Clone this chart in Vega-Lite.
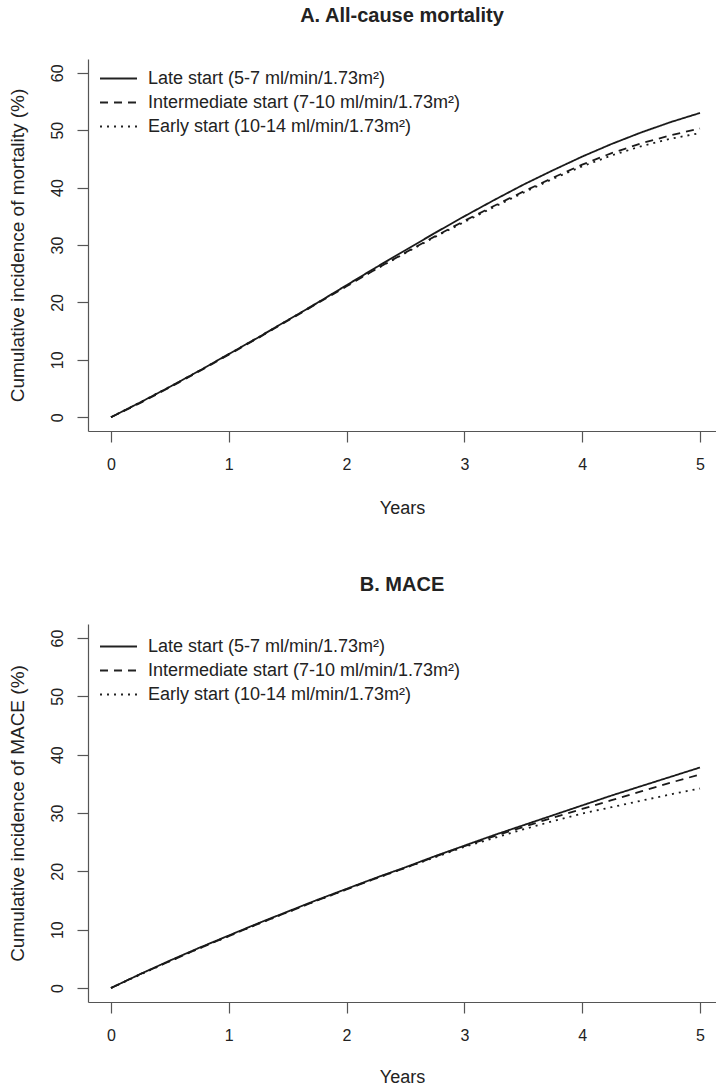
{
  "$schema": "https://vega.github.io/schema/vega-lite/v6.json",
  "padding": {"left": 7, "top": 6, "right": 0, "bottom": 0},
  "bounds": "flush",
  "spacing": 193,
  "config": {
    "font": "Liberation Sans",
    "view": {"stroke": null},
    "axis": {
      "grid": false, "domain": true, "domainColor": "#555", "domainWidth": 1.2,
      "tickColor": "#555", "tickSize": 11, "tickWidth": 1.2,
      "labelFont": "Liberation Sans", "labelFontSize": 16, "labelColor": "#222",
      "titleFont": "Liberation Sans", "titleFontSize": 18, "titleFontWeight": "normal", "titleColor": "#222"
    },
    "legend": {
      "orient": "none", "legendX": 20, "legendY": 9, "padding": 0, "title": null,
      "labelFont": "Liberation Sans", "labelFontSize": 18, "labelColor": "#222", "labelLimit": 0,
      "symbolType": "M-2,0H2", "symbolSize": 342, "symbolStrokeWidth": 1.6, "symbolStrokeColor": "#222",
      "labelOffset": 19, "rowPadding": 4
    },
    "title": {"font": "Liberation Sans", "fontSize": 20, "fontWeight": "bold", "color": "#222", "offset": 33, "anchor": "middle"},
    "line": {"color": "#1a1a1a", "strokeWidth": 1.8}
  },
  "datasets": {
    "a": [
      {"group": "Late start (5-7 ml/min/1.73m²)", "years": 0, "pct": 0},
      {"group": "Late start (5-7 ml/min/1.73m²)", "years": 0.25, "pct": 2.6},
      {"group": "Late start (5-7 ml/min/1.73m²)", "years": 0.5, "pct": 5.3},
      {"group": "Late start (5-7 ml/min/1.73m²)", "years": 0.75, "pct": 8.1},
      {"group": "Late start (5-7 ml/min/1.73m²)", "years": 1, "pct": 11.0},
      {"group": "Late start (5-7 ml/min/1.73m²)", "years": 1.25, "pct": 13.9},
      {"group": "Late start (5-7 ml/min/1.73m²)", "years": 1.5, "pct": 16.9},
      {"group": "Late start (5-7 ml/min/1.73m²)", "years": 1.75, "pct": 19.9},
      {"group": "Late start (5-7 ml/min/1.73m²)", "years": 2, "pct": 23.0},
      {"group": "Late start (5-7 ml/min/1.73m²)", "years": 2.25, "pct": 26.1},
      {"group": "Late start (5-7 ml/min/1.73m²)", "years": 2.5, "pct": 29.1},
      {"group": "Late start (5-7 ml/min/1.73m²)", "years": 2.75, "pct": 32.1},
      {"group": "Late start (5-7 ml/min/1.73m²)", "years": 3, "pct": 35.0},
      {"group": "Late start (5-7 ml/min/1.73m²)", "years": 3.25, "pct": 37.8},
      {"group": "Late start (5-7 ml/min/1.73m²)", "years": 3.5, "pct": 40.5},
      {"group": "Late start (5-7 ml/min/1.73m²)", "years": 3.75, "pct": 43.0},
      {"group": "Late start (5-7 ml/min/1.73m²)", "years": 4, "pct": 45.4},
      {"group": "Late start (5-7 ml/min/1.73m²)", "years": 4.25, "pct": 47.6},
      {"group": "Late start (5-7 ml/min/1.73m²)", "years": 4.5, "pct": 49.6},
      {"group": "Late start (5-7 ml/min/1.73m²)", "years": 4.75, "pct": 51.4},
      {"group": "Late start (5-7 ml/min/1.73m²)", "years": 5, "pct": 53.0},
      {"group": "Intermediate start (7-10 ml/min/1.73m²)", "years": 0, "pct": 0},
      {"group": "Intermediate start (7-10 ml/min/1.73m²)", "years": 0.25, "pct": 2.5},
      {"group": "Intermediate start (7-10 ml/min/1.73m²)", "years": 0.5, "pct": 5.2},
      {"group": "Intermediate start (7-10 ml/min/1.73m²)", "years": 0.75, "pct": 8.0},
      {"group": "Intermediate start (7-10 ml/min/1.73m²)", "years": 1, "pct": 10.9},
      {"group": "Intermediate start (7-10 ml/min/1.73m²)", "years": 1.25, "pct": 13.8},
      {"group": "Intermediate start (7-10 ml/min/1.73m²)", "years": 1.5, "pct": 16.8},
      {"group": "Intermediate start (7-10 ml/min/1.73m²)", "years": 1.75, "pct": 19.8},
      {"group": "Intermediate start (7-10 ml/min/1.73m²)", "years": 2, "pct": 22.8},
      {"group": "Intermediate start (7-10 ml/min/1.73m²)", "years": 2.25, "pct": 25.8},
      {"group": "Intermediate start (7-10 ml/min/1.73m²)", "years": 2.5, "pct": 28.7},
      {"group": "Intermediate start (7-10 ml/min/1.73m²)", "years": 2.75, "pct": 31.5},
      {"group": "Intermediate start (7-10 ml/min/1.73m²)", "years": 3, "pct": 34.2},
      {"group": "Intermediate start (7-10 ml/min/1.73m²)", "years": 3.25, "pct": 36.8},
      {"group": "Intermediate start (7-10 ml/min/1.73m²)", "years": 3.5, "pct": 39.3},
      {"group": "Intermediate start (7-10 ml/min/1.73m²)", "years": 3.75, "pct": 41.7},
      {"group": "Intermediate start (7-10 ml/min/1.73m²)", "years": 4, "pct": 44.0},
      {"group": "Intermediate start (7-10 ml/min/1.73m²)", "years": 4.25, "pct": 46.0},
      {"group": "Intermediate start (7-10 ml/min/1.73m²)", "years": 4.5, "pct": 47.7},
      {"group": "Intermediate start (7-10 ml/min/1.73m²)", "years": 4.75, "pct": 49.1},
      {"group": "Intermediate start (7-10 ml/min/1.73m²)", "years": 5, "pct": 50.3},
      {"group": "Early start (10-14 ml/min/1.73m²)", "years": 0, "pct": 0},
      {"group": "Early start (10-14 ml/min/1.73m²)", "years": 0.25, "pct": 2.6},
      {"group": "Early start (10-14 ml/min/1.73m²)", "years": 0.5, "pct": 5.3},
      {"group": "Early start (10-14 ml/min/1.73m²)", "years": 0.75, "pct": 8.1},
      {"group": "Early start (10-14 ml/min/1.73m²)", "years": 1, "pct": 11.0},
      {"group": "Early start (10-14 ml/min/1.73m²)", "years": 1.25, "pct": 13.9},
      {"group": "Early start (10-14 ml/min/1.73m²)", "years": 1.5, "pct": 16.9},
      {"group": "Early start (10-14 ml/min/1.73m²)", "years": 1.75, "pct": 19.9},
      {"group": "Early start (10-14 ml/min/1.73m²)", "years": 2, "pct": 22.9},
      {"group": "Early start (10-14 ml/min/1.73m²)", "years": 2.25, "pct": 25.8},
      {"group": "Early start (10-14 ml/min/1.73m²)", "years": 2.5, "pct": 28.6},
      {"group": "Early start (10-14 ml/min/1.73m²)", "years": 2.75, "pct": 31.4},
      {"group": "Early start (10-14 ml/min/1.73m²)", "years": 3, "pct": 34.0},
      {"group": "Early start (10-14 ml/min/1.73m²)", "years": 3.25, "pct": 36.6},
      {"group": "Early start (10-14 ml/min/1.73m²)", "years": 3.5, "pct": 39.1},
      {"group": "Early start (10-14 ml/min/1.73m²)", "years": 3.75, "pct": 41.5},
      {"group": "Early start (10-14 ml/min/1.73m²)", "years": 4, "pct": 43.7},
      {"group": "Early start (10-14 ml/min/1.73m²)", "years": 4.25, "pct": 45.6},
      {"group": "Early start (10-14 ml/min/1.73m²)", "years": 4.5, "pct": 47.2},
      {"group": "Early start (10-14 ml/min/1.73m²)", "years": 4.75, "pct": 48.5},
      {"group": "Early start (10-14 ml/min/1.73m²)", "years": 5, "pct": 49.5}
    ],
    "b": [
      {"group": "Late start (5-7 ml/min/1.73m²)", "years": 0, "pct": 0},
      {"group": "Late start (5-7 ml/min/1.73m²)", "years": 0.25, "pct": 2.4},
      {"group": "Late start (5-7 ml/min/1.73m²)", "years": 0.5, "pct": 4.7},
      {"group": "Late start (5-7 ml/min/1.73m²)", "years": 0.75, "pct": 6.9},
      {"group": "Late start (5-7 ml/min/1.73m²)", "years": 1, "pct": 9.0},
      {"group": "Late start (5-7 ml/min/1.73m²)", "years": 1.25, "pct": 11.1},
      {"group": "Late start (5-7 ml/min/1.73m²)", "years": 1.5, "pct": 13.1},
      {"group": "Late start (5-7 ml/min/1.73m²)", "years": 1.75, "pct": 15.1},
      {"group": "Late start (5-7 ml/min/1.73m²)", "years": 2, "pct": 17.0},
      {"group": "Late start (5-7 ml/min/1.73m²)", "years": 2.25, "pct": 18.9},
      {"group": "Late start (5-7 ml/min/1.73m²)", "years": 2.5, "pct": 20.7},
      {"group": "Late start (5-7 ml/min/1.73m²)", "years": 2.75, "pct": 22.6},
      {"group": "Late start (5-7 ml/min/1.73m²)", "years": 3, "pct": 24.4},
      {"group": "Late start (5-7 ml/min/1.73m²)", "years": 3.25, "pct": 26.2},
      {"group": "Late start (5-7 ml/min/1.73m²)", "years": 3.5, "pct": 27.9},
      {"group": "Late start (5-7 ml/min/1.73m²)", "years": 3.75, "pct": 29.6},
      {"group": "Late start (5-7 ml/min/1.73m²)", "years": 4, "pct": 31.3},
      {"group": "Late start (5-7 ml/min/1.73m²)", "years": 4.25, "pct": 33.0},
      {"group": "Late start (5-7 ml/min/1.73m²)", "years": 4.5, "pct": 34.6},
      {"group": "Late start (5-7 ml/min/1.73m²)", "years": 4.75, "pct": 36.2},
      {"group": "Late start (5-7 ml/min/1.73m²)", "years": 5, "pct": 37.8},
      {"group": "Intermediate start (7-10 ml/min/1.73m²)", "years": 0, "pct": 0},
      {"group": "Intermediate start (7-10 ml/min/1.73m²)", "years": 0.25, "pct": 2.4},
      {"group": "Intermediate start (7-10 ml/min/1.73m²)", "years": 0.5, "pct": 4.6},
      {"group": "Intermediate start (7-10 ml/min/1.73m²)", "years": 0.75, "pct": 6.8},
      {"group": "Intermediate start (7-10 ml/min/1.73m²)", "years": 1, "pct": 8.9},
      {"group": "Intermediate start (7-10 ml/min/1.73m²)", "years": 1.25, "pct": 11.0},
      {"group": "Intermediate start (7-10 ml/min/1.73m²)", "years": 1.5, "pct": 13.0},
      {"group": "Intermediate start (7-10 ml/min/1.73m²)", "years": 1.75, "pct": 15.0},
      {"group": "Intermediate start (7-10 ml/min/1.73m²)", "years": 2, "pct": 16.9},
      {"group": "Intermediate start (7-10 ml/min/1.73m²)", "years": 2.25, "pct": 18.8},
      {"group": "Intermediate start (7-10 ml/min/1.73m²)", "years": 2.5, "pct": 20.6},
      {"group": "Intermediate start (7-10 ml/min/1.73m²)", "years": 2.75, "pct": 22.5},
      {"group": "Intermediate start (7-10 ml/min/1.73m²)", "years": 3, "pct": 24.3},
      {"group": "Intermediate start (7-10 ml/min/1.73m²)", "years": 3.25, "pct": 26.0},
      {"group": "Intermediate start (7-10 ml/min/1.73m²)", "years": 3.5, "pct": 27.6},
      {"group": "Intermediate start (7-10 ml/min/1.73m²)", "years": 3.75, "pct": 29.2},
      {"group": "Intermediate start (7-10 ml/min/1.73m²)", "years": 4, "pct": 30.7},
      {"group": "Intermediate start (7-10 ml/min/1.73m²)", "years": 4.25, "pct": 32.2},
      {"group": "Intermediate start (7-10 ml/min/1.73m²)", "years": 4.5, "pct": 33.7},
      {"group": "Intermediate start (7-10 ml/min/1.73m²)", "years": 4.75, "pct": 35.2},
      {"group": "Intermediate start (7-10 ml/min/1.73m²)", "years": 5, "pct": 36.6},
      {"group": "Early start (10-14 ml/min/1.73m²)", "years": 0, "pct": 0},
      {"group": "Early start (10-14 ml/min/1.73m²)", "years": 0.25, "pct": 2.3},
      {"group": "Early start (10-14 ml/min/1.73m²)", "years": 0.5, "pct": 4.6},
      {"group": "Early start (10-14 ml/min/1.73m²)", "years": 0.75, "pct": 6.8},
      {"group": "Early start (10-14 ml/min/1.73m²)", "years": 1, "pct": 8.9},
      {"group": "Early start (10-14 ml/min/1.73m²)", "years": 1.25, "pct": 11.0},
      {"group": "Early start (10-14 ml/min/1.73m²)", "years": 1.5, "pct": 13.0},
      {"group": "Early start (10-14 ml/min/1.73m²)", "years": 1.75, "pct": 15.0},
      {"group": "Early start (10-14 ml/min/1.73m²)", "years": 2, "pct": 16.9},
      {"group": "Early start (10-14 ml/min/1.73m²)", "years": 2.25, "pct": 18.8},
      {"group": "Early start (10-14 ml/min/1.73m²)", "years": 2.5, "pct": 20.6},
      {"group": "Early start (10-14 ml/min/1.73m²)", "years": 2.75, "pct": 22.4},
      {"group": "Early start (10-14 ml/min/1.73m²)", "years": 3, "pct": 24.2},
      {"group": "Early start (10-14 ml/min/1.73m²)", "years": 3.25, "pct": 25.7},
      {"group": "Early start (10-14 ml/min/1.73m²)", "years": 3.5, "pct": 27.2},
      {"group": "Early start (10-14 ml/min/1.73m²)", "years": 3.75, "pct": 28.6},
      {"group": "Early start (10-14 ml/min/1.73m²)", "years": 4, "pct": 29.9},
      {"group": "Early start (10-14 ml/min/1.73m²)", "years": 4.25, "pct": 31.0},
      {"group": "Early start (10-14 ml/min/1.73m²)", "years": 4.5, "pct": 32.1},
      {"group": "Early start (10-14 ml/min/1.73m²)", "years": 4.75, "pct": 33.2},
      {"group": "Early start (10-14 ml/min/1.73m²)", "years": 5, "pct": 34.2}
    ]
  },
  "vconcat": [
    {
      "title": {"text": "A. All-cause mortality"},
      "width": 628,
      "height": 372,
      "layer": [
        {
          "data": {"name": "a"},
          "mark": {"type": "line"},
          "encoding": {
            "x": {"field": "years", "type": "quantitative",
              "scale": {"domain": [-0.195, 5.136], "nice": false, "zero": false},
              "axis": {"values": [0, 1, 2, 3, 4, 5], "title": "Years", "labelPadding": 14, "titlePadding": 27, "labelFlush": false}},
            "y": {"field": "pct", "type": "quantitative",
              "scale": {"domain": [-2.4, 62.4], "nice": false, "zero": false},
              "axis": {"values": [0, 10, 20, 30, 40, 50, 60], "title": "Cumulative incidence of mortality (%)", "titleFontSize": 19,
                "labelAngle": -90, "labelAlign": "center", "labelBaseline": "bottom", "labelPadding": 12, "titlePadding": 22, "labelFlush": false}},
            "strokeDash": {"field": "group", "type": "nominal",
              "scale": {"domain": ["Late start (5-7 ml/min/1.73m²)", "Intermediate start (7-10 ml/min/1.73m²)", "Early start (10-14 ml/min/1.73m²)"],
                "range": [[1, 0], [8, 6], [2, 5]]},
              "legend": {"title": null, "legendY": 9}}
          }
        },
        {
          "mark": {"type": "rule", "color": "#555", "strokeWidth": 1.2},
          "encoding": {"y": {"datum": 62.4}}
        }
      ]
    },
    {
      "title": {"text": "B. MACE", "offset": 29},
      "width": 628,
      "height": 378,
      "layer": [
        {
          "data": {"name": "b"},
          "mark": {"type": "line"},
          "encoding": {
            "x": {"field": "years", "type": "quantitative",
              "scale": {"domain": [-0.195, 5.136], "nice": false, "zero": false},
              "axis": {"values": [0, 1, 2, 3, 4, 5], "title": "Years", "labelPadding": 14, "titlePadding": 25, "labelFlush": false}},
            "y": {"field": "pct", "type": "quantitative",
              "scale": {"domain": [-2.4, 62.4], "nice": false, "zero": false},
              "axis": {"values": [0, 10, 20, 30, 40, 50, 60], "title": "Cumulative incidence of MACE (%)", "titleFontSize": 19,
                "labelAngle": -90, "labelAlign": "center", "labelBaseline": "bottom", "labelPadding": 12, "titlePadding": 22, "labelFlush": false}},
            "strokeDash": {"field": "group", "type": "nominal",
              "scale": {"domain": ["Late start (5-7 ml/min/1.73m²)", "Intermediate start (7-10 ml/min/1.73m²)", "Early start (10-14 ml/min/1.73m²)"],
                "range": [[1, 0], [8, 6], [2, 5]]},
              "legend": {"title": null, "legendY": 12}}
          }
        },
        {
          "mark": {"type": "rule", "color": "#555", "strokeWidth": 1.2},
          "encoding": {"y": {"datum": 62.4}}
        }
      ]
    }
  ],
  "resolve": {"scale": {"strokeDash": "independent"}}
}
